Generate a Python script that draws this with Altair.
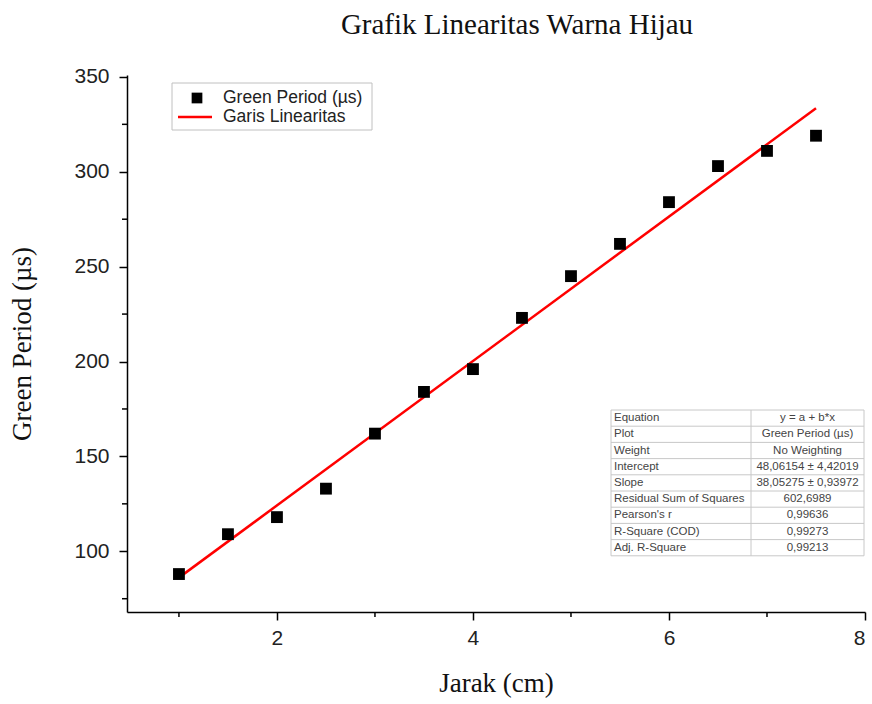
import altair as alt
import pandas as pd

# ---- data ----
jarak = [1.0, 1.5, 2.0, 2.5, 3.0, 3.5, 4.0, 4.5, 5.0, 5.5, 6.0, 6.5, 7.0, 7.5]
period = [88, 109, 118, 133, 162, 184, 196, 223, 245, 262, 284, 303, 311, 319]
x_major = [2, 4, 6, 8]
x_minor = [1, 3, 5, 7]
y_major = [100, 150, 200, 250, 300, 350]
y_minor = [75, 125, 175, 225, 275, 325]
table_labels = ["Equation", "Plot", "Weight", "Intercept", "Slope",
                "Residual Sum of Squares", "Pearson's r", "R-Square (COD)", "Adj. R-Square"]
table_values = ["y = a + b*x", "Green Period (µs)", "No Weighting", "48,06154 ± 4,42019",
                "38,05275 ± 0,93972", "602,6989", "0,99636", "0,99273", "0,99213"]
legend_labels = ["Green Period (µs)", "Garis Linearitas"]

W, H = 738, 537
xs = alt.Scale(domain=[0.47, 8.0], nice=False, zero=False)
ys = alt.Scale(domain=[68, 351], nice=False, zero=False)
xaxis = alt.Axis(values=x_major, title="Jarak (cm)", format="d", titlePadding=22, labelPadding=7)
yaxis = alt.Axis(values=y_major, title="Green Period (µs)", format="d", titlePadding=37, labelPadding=10)

df = pd.DataFrame({"x": jarak, "y": period})
base = alt.Chart(df)

fit = base.transform_regression("x", "y").mark_line(color="#ff0000", strokeWidth=2.5).encode(
    x=alt.X("x:Q", scale=xs, axis=xaxis),
    y=alt.Y("y:Q", scale=ys, axis=yaxis),
)
points = base.mark_square(size=140, color="black", opacity=1).encode(
    x=alt.X("x:Q", scale=xs, axis=xaxis),
    y=alt.Y("y:Q", scale=ys, axis=yaxis),
)

xminor = alt.Chart(pd.DataFrame({"x": x_minor})).mark_rule(color="black", strokeWidth=1.5).encode(
    x=alt.X("x:Q", scale=xs, axis=xaxis), y=alt.value(H), y2=alt.value(H + 5)
)
yminor = alt.Chart(pd.DataFrame({"y": y_minor})).mark_rule(color="black", strokeWidth=1.5).encode(
    y=alt.Y("y:Q", scale=ys, axis=yaxis), x=alt.value(-5), x2=alt.value(0)
)

one = alt.Chart(pd.DataFrame({"a": [0]}))

# legend (manual)
leg_box = one.mark_rect(fill="white", stroke="#c0c0c0", strokeWidth=1).encode(
    x=alt.value(45), x2=alt.value(245), y=alt.value(8), y2=alt.value(55))
leg_sq = one.mark_square(size=115, color="black", opacity=1).encode(x=alt.value(70), y=alt.value(23))
leg_ln = one.mark_rule(color="#ff0000", strokeWidth=2.5).encode(
    x=alt.value(51), x2=alt.value(85), y=alt.value(42))
leg_t1 = one.mark_text(text=legend_labels[0], align="left", baseline="middle", font="Liberation Sans",
                       fontSize=17.5, color="#222").encode(x=alt.value(96), y=alt.value(23))
leg_t2 = one.mark_text(text=legend_labels[1], align="left", baseline="middle", font="Liberation Sans",
                       fontSize=17.5, color="#222").encode(x=alt.value(96), y=alt.value(42))

# statistics table (manual annotation)
tx0, tx1, tdiv, ty0 = 484, 737, 624, 335
rh = 16.2
layers = []
layers.append(one.mark_rect(fill="white", stroke="#c8c8c8", strokeWidth=1).encode(
    x=alt.value(tx0), x2=alt.value(tx1), y=alt.value(ty0), y2=alt.value(ty0 + rh * len(table_labels))))
layers.append(one.mark_rule(color="#c8c8c8", strokeWidth=1).encode(
    x=alt.value(tdiv), y=alt.value(ty0), y2=alt.value(ty0 + rh * len(table_labels))))
for i, (lab, val) in enumerate(zip(table_labels, table_values)):
    yc = ty0 + rh * (i + 0.5)
    if i > 0:
        layers.append(one.mark_rule(color="#c8c8c8", strokeWidth=1).encode(
            x=alt.value(tx0), x2=alt.value(tx1), y=alt.value(ty0 + rh * i)))
    layers.append(one.mark_text(text=lab, align="left", baseline="middle", font="Liberation Sans",
                                fontSize=11.5, color="#444").encode(x=alt.value(tx0 + 3), y=alt.value(yc)))
    layers.append(one.mark_text(text=val, align="center", baseline="middle", font="Liberation Sans",
                                fontSize=11.5, color="#444").encode(x=alt.value((tdiv + tx1) / 2), y=alt.value(yc)))

chart = alt.layer(fit, points, xminor, yminor, leg_box, leg_sq, leg_ln, leg_t1, leg_t2, *layers).properties(
    width=W, height=H,
    padding={"left": 127, "top": 75, "right": 7, "bottom": 92},
    autosize="none",
    title=alt.TitleParams("Grafik Linearitas Warna Hijau", font="Liberation Serif", fontSize=29,
                          fontWeight="normal", color="#111", anchor="middle", dx=21, offset=26),
).configure_view(stroke=None).configure_axis(
    domainColor="black", domainWidth=1.5, tickColor="black", tickWidth=1.5, tickSize=8,
    grid=False, labelFont="Liberation Sans", labelFontSize=21, labelColor="#222",
    titleFont="Liberation Serif", titleFontSize=27, titleFontWeight="normal", titleColor="#111",
)

chart.save("out.html", embed_options={"renderer": "svg", "actions": False})
